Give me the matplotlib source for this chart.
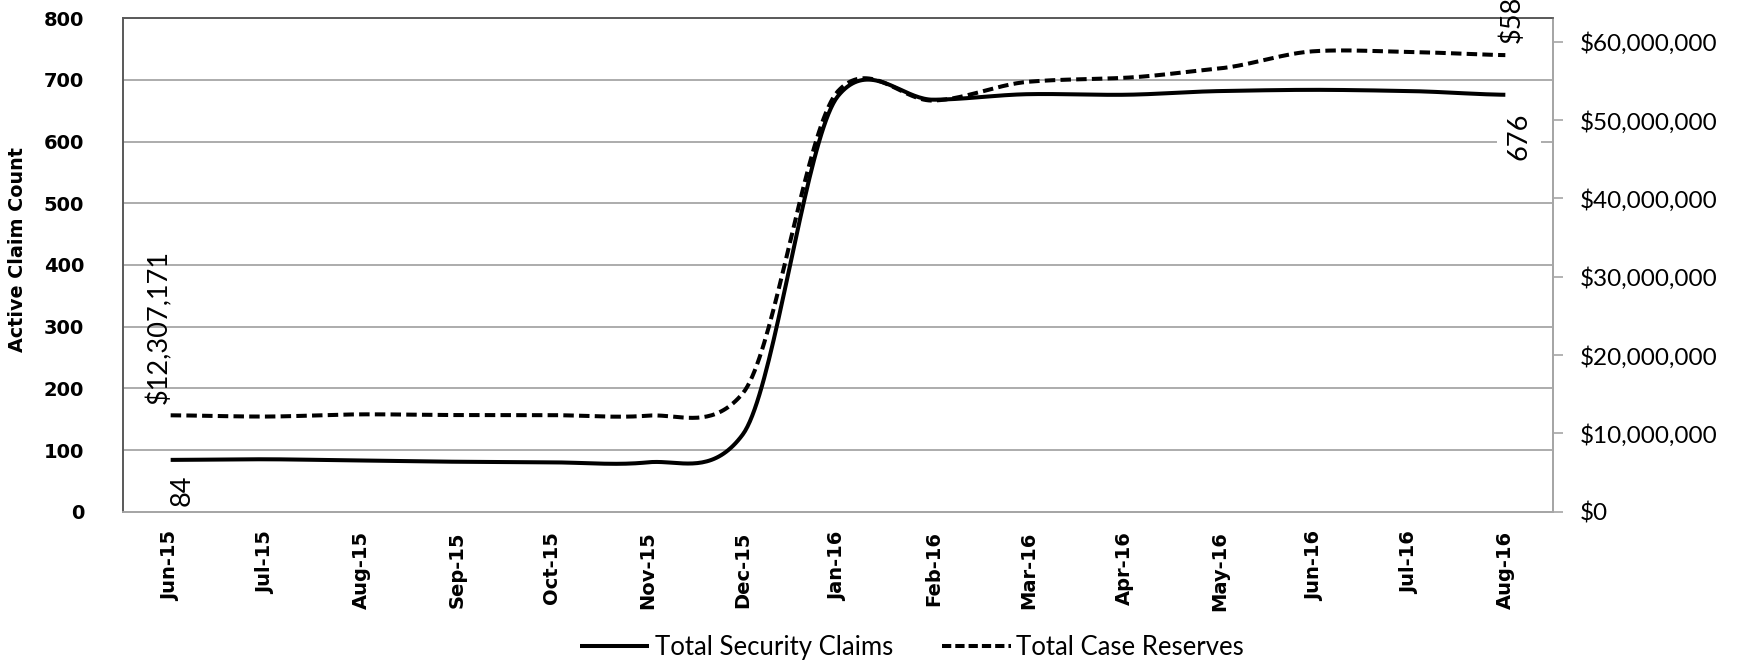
import numpy as np
import matplotlib
matplotlib.use("Agg")
import matplotlib.pyplot as plt
from matplotlib.lines import Line2D
from matplotlib.ticker import FuncFormatter

# ---------------- data ----------------
months = ['Jun-15', 'Jul-15', 'Aug-15', 'Sep-15', 'Oct-15', 'Nov-15', 'Dec-15',
          'Jan-16', 'Feb-16', 'Mar-16', 'Apr-16', 'May-16', 'Jun-16', 'Jul-16', 'Aug-16']
claims = [84, 85, 83, 81, 80, 80, 125, 674, 668, 677, 676, 682, 684, 682, 676]
reserves = [12307171, 12150000, 12430000, 12340000, 12330000, 12260000, 15100000,
            53700000, 52500000, 54900000, 55400000, 56600000, 58800000, 58700000, 58300000]
series_names = ['Total Security Claims', 'Total Case Reserves']
left_ticks = [0, 100, 200, 300, 400, 500, 600, 700, 800]
right_ticks = [0, 10e6, 20e6, 30e6, 40e6, 50e6, 60e6]

plt.rcParams['font.family'] = ['Lato', 'DejaVu Sans']
BOLD = 'DejaVu Sans'

W, H = 1738, 663
fig = plt.figure(figsize=(W / 100, H / 100), dpi=100)
ax = fig.add_axes([123 / W, (H - 511.7) / H, (1553 - 123) / W, (511.7 - 18.3) / H])
ax2 = ax.twinx()

x = np.arange(len(months))
ax.set_xlim(-0.5, len(months) - 0.5)
ax.set_ylim(0, 800)
ax2.set_ylim(0, 63e6)


def cardinal(xv, yv, c=0.7, n=40):
    """Smoothed curve through the points (cardinal spline, like Excel's smoothing)."""
    xv = np.asarray(xv, float)
    yv = np.asarray(yv, float)
    N = len(yv)
    m = np.zeros(N)
    for i in range(N):
        if i == 0:
            m[i] = c * (yv[1] - yv[0]) / 2
        elif i == N - 1:
            m[i] = c * (yv[-1] - yv[-2]) / 2
        else:
            m[i] = c * (yv[i + 1] - yv[i - 1]) / 2
    xs, ys = [], []
    t = np.linspace(0, 1, n, endpoint=False)
    for i in range(N - 1):
        h00 = 2 * t**3 - 3 * t**2 + 1
        h10 = t**3 - 2 * t**2 + t
        h01 = -2 * t**3 + 3 * t**2
        h11 = t**3 - t**2
        ys.append(h00 * yv[i] + h10 * m[i] + h01 * yv[i + 1] + h11 * m[i + 1])
        xs.append(xv[i] + t * (xv[i + 1] - xv[i]))
    xs.append([xv[-1]])
    ys.append([yv[-1]])
    return np.concatenate(xs), np.concatenate(ys)


sx, sy = cardinal(x, claims)
ax.plot(sx, sy, color='black', lw=2.9, solid_capstyle='butt', zorder=3)
rx, ry = cardinal(x, reserves)
ax2.plot(rx, ry, color='black', lw=2.9, dashes=(2.6, 1.3), dash_capstyle='butt', zorder=3)

# ---------------- axes styling ----------------
grid_c = '#a6a6a6'
ax.set_yticks(left_ticks)
ax.yaxis.grid(True, color=grid_c, lw=1.3)
ax.set_axisbelow(True)
ax.set_xticks(x)
ax.set_xticklabels(months, rotation=90, fontsize=14, fontweight='bold', family=BOLD,
                   va='top', ha='center')
ax.tick_params(axis='x', length=0, pad=14)
ax.tick_params(axis='y', length=0, pad=28, labelsize=14)
for lab in ax.get_yticklabels():
    lab.set_fontweight('bold')
    lab.set_family(BOLD)

ax2.set_yticks(right_ticks)
ax2.yaxis.set_major_formatter(FuncFormatter(lambda v, p: f"${v:,.0f}"))
ax2.tick_params(axis='y', direction='out', length=7.2, width=1.2, color=grid_c,
                pad=12, labelsize=17.5)

for a in (ax, ax2):
    a.spines['top'].set_color('#595959')
    a.spines['top'].set_linewidth(1.2)
    a.spines['left'].set_color('#595959')
    a.spines['left'].set_linewidth(1.2)
    a.spines['right'].set_color(grid_c)
    a.spines['right'].set_linewidth(1.3)
    a.spines['bottom'].set_color(grid_c)
    a.spines['bottom'].set_linewidth(1.3)

fig.text(18 / W, 1 - 249 / H, 'Active Claim Count', rotation=90, ha='center', va='center',
         fontsize=13.8, fontweight='bold', family=BOLD)

# ---------------- data labels ----------------
lab_fs = 19.5
ax.annotate(f"{claims[0]}", (x[0], claims[0]), xytext=(8.3, -10.8), textcoords='offset points',
            rotation=90, ha='center', va='top', fontsize=lab_fs, zorder=5)
ax2.annotate(f"{claims[-1]}", (x[-1], claims[-1] / 800 * 63e6), xytext=(10, -13),
             textcoords='offset points', rotation=90, ha='center', va='top', fontsize=lab_fs,
             bbox=dict(boxstyle='square,pad=0.35', fc='white', ec='none'), zorder=5)
ax2.annotate(f"${reserves[0]:,.0f}", (x[0], reserves[0]), xytext=(-8.8, 8),
             textcoords='offset points', rotation=90, ha='center', va='bottom', fontsize=lab_fs,
             zorder=5)
ax2.annotate(f"${reserves[-1]:,.0f}", (x[-1], reserves[-1]), xytext=(5, 8.7),
             textcoords='offset points', rotation=90, ha='center', va='bottom', fontsize=lab_fs,
             zorder=5, annotation_clip=False)

# ---------------- legend ----------------
handles = [Line2D([], [], color='black', lw=2.9, solid_capstyle='butt'),
           Line2D([], [], color='black', lw=2.9, dashes=(2.3, 1.0), dash_capstyle='butt')]
fig.legend(handles, series_names, loc='center', bbox_to_anchor=(0.5247, 0.0241), ncol=2,
           frameon=False, fontsize=18.5, handlelength=2.7, handletextpad=0.2,
           columnspacing=1.9, borderpad=0, borderaxespad=0)

fig.savefig('out.png', dpi=100)
